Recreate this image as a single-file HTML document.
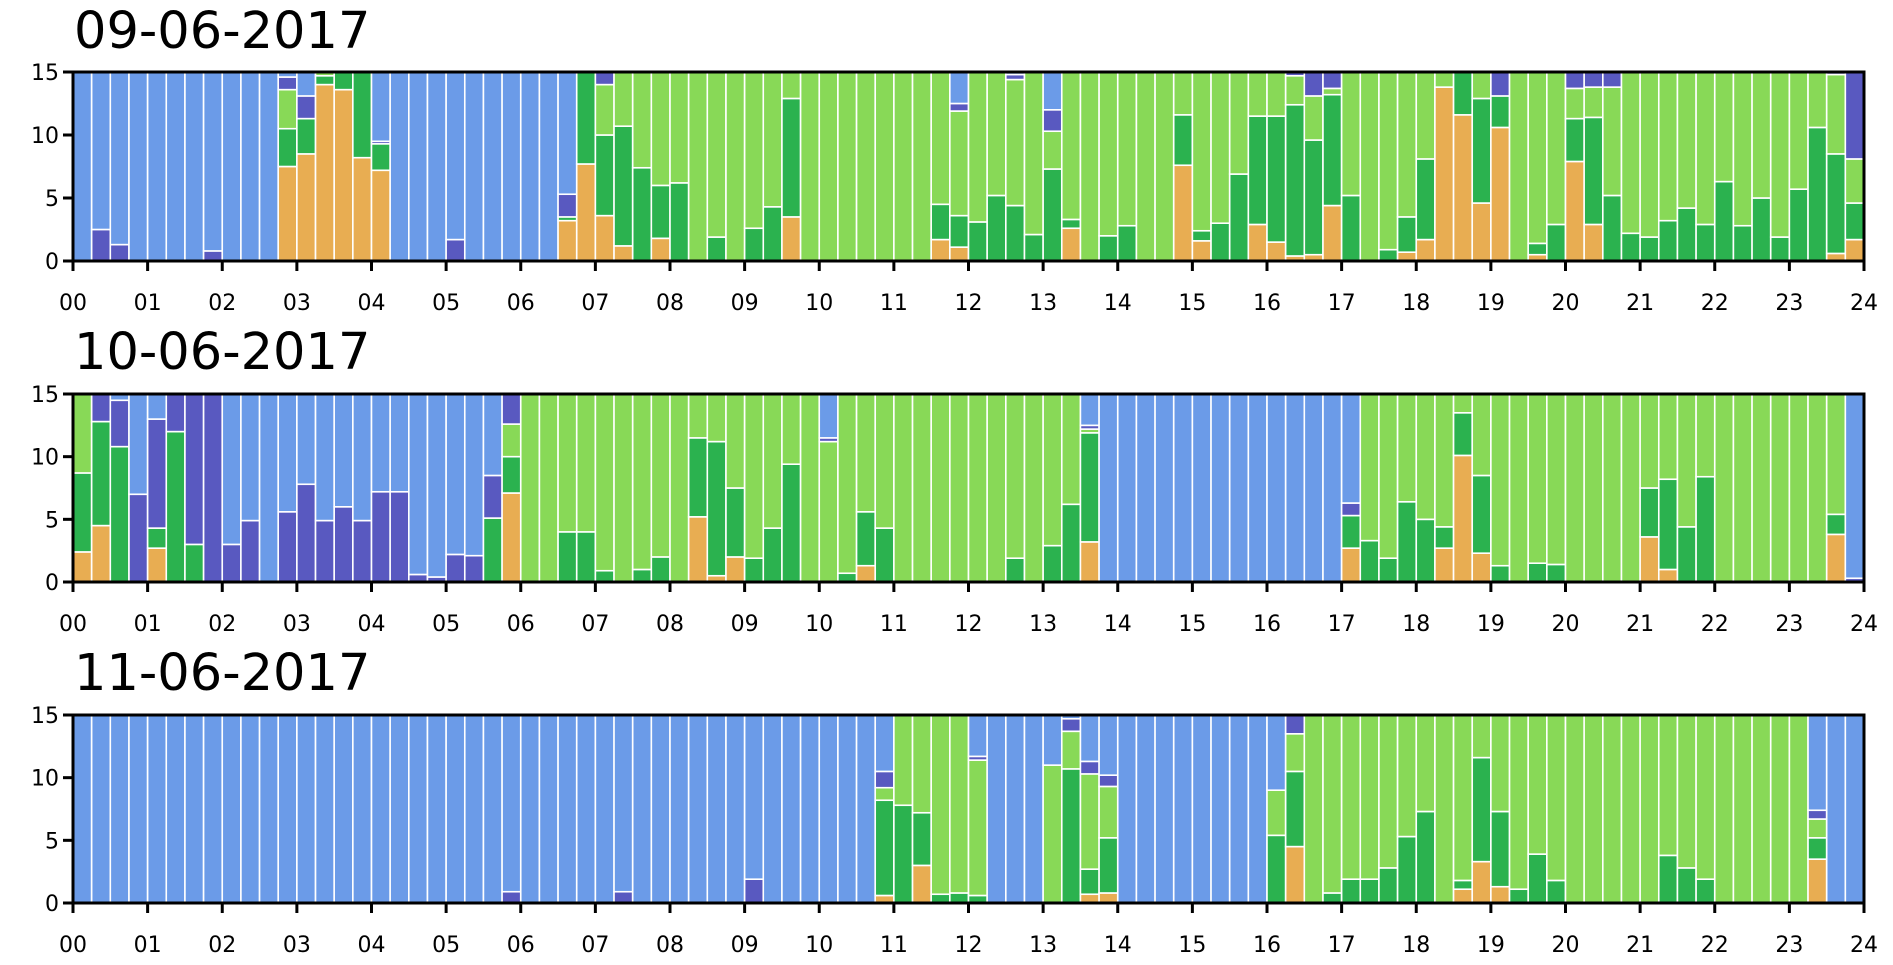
<!DOCTYPE html>
<html><head><meta charset="utf-8"><style>body{margin:0;background:#fff}svg{display:block}</style></head>
<body>
<svg id="s" width="1893" height="965" xmlns="http://www.w3.org/2000/svg" font-family="DejaVu Sans, Liberation Sans, sans-serif"></svg>
<script>
const C=['#e8ad52','#2bb24f','#88d957','#5959c0','#6b9be8'];
const P=[
{top:72,bot:261,title:'09-06-2017',ty:48,def:'B',o:{
1:[0,0,0,2.5],2:[0,0,0,1.3],7:[0,0,0,0.8],11:[7.5,3,3.1,1],12:[8.5,2.8,0,1.8],13:[14,0.7,0.3,0],14:[13.6,1.4,0,0],15:[8.2,6.8,0,0],16:[7.2,2.1,0,0.2],20:[0,0,0,1.7],
26:[3.2,0.3,0,1.8],27:[7.7,7.3,0,0],28:[3.6,6.4,4,1],29:[1.2,9.5,4.3,0],30:[0,7.4,7.6,0],31:[1.8,4.2,9,0],32:[0,6.2,8.8,0],
34:'G1.9',36:'G2.6',37:'G4.3',38:[3.5,9.4,2.1,0],46:[1.7,2.8,10.5,0],47:[1.1,2.5,8.3,0.6],48:'G3.1',49:'G5.2',50:[0,4.4,10,0.4],51:'G2.1',52:[0,7.3,3,1.7],53:[2.6,0.7,11.7,0],55:'G2',56:'G2.8',
59:[7.6,4,3.4,0],60:[1.6,0.8,12.6,0],61:'G3',62:'G6.9',63:[2.9,8.6,3.5,0],64:[1.5,10,3.5,0],65:[0.4,12,2.3,0.3],66:[0.5,9.1,3.5,1.9],67:[4.4,8.8,0.5,1.3],68:'G5.2',70:'G0.9',71:[0.7,2.8,11.5,0],72:[1.7,6.4,6.9,0],
73:[13.8,0,1.2,0],74:[11.6,3.4,0,0],75:[4.6,8.3,2.1,0],76:[10.6,2.5,0,1.9],78:[0.5,0.9,13.6,0],79:'G2.9',80:[7.9,3.4,2.4,1.3],81:[2.9,8.5,2.4,1.2],82:[0,5.2,8.6,1.2],83:'G2.2',84:'G1.9',85:'G3.2',86:'G4.2',87:'G2.9',88:'G6.3',89:'G2.8',90:'G5',91:'G1.9',92:'G5.7',93:'G10.6',94:[0.6,7.9,6.3,0.2],95:[1.7,2.9,3.5,6.9]
}},
{top:394,bot:582,title:'10-06-2017',ty:369,o:{
0:[2.4,6.3,6.3,0],1:[4.5,8.3,0,2.2],2:[0,10.8,0,3.7],3:[0,0,0,7],4:[2.7,1.6,0,8.7],5:[0,12,0,3],6:[0,3,0,12],7:[0,0,0,15],8:[0,0,0,3],9:[0,0,0,4.9],10:'B',11:[0,0,0,5.6],12:[0,0,0,7.8],13:[0,0,0,4.9],14:[0,0,0,6],15:[0,0,0,4.9],16:[0,0,0,7.2],17:[0,0,0,7.2],18:[0,0,0,0.6],19:[0,0,0,0.4],20:[0,0,0,2.2],21:[0,0,0,2.1],22:[0,5.1,0,3.4],23:[7.1,2.9,2.6,2.4],
26:'G4',27:'G4',28:'G0.9',30:'G1',31:'G2',33:[5.2,6.3,3.5,0],34:[0.5,10.7,3.8,0],35:[2,5.5,7.5,0],36:'G1.9',37:'G4.3',38:'G9.4',39:[0,0,14.6,0],40:[0,0,11.2,0.3],41:'G0.7',42:[1.3,4.3,9.4,0],43:'G4.3',50:'G1.9',52:'G2.9',53:'G6.2',54:[3.2,8.7,0.3,0.3],
55:'B',56:'B',57:'B',58:'B',59:'B',60:'B',61:'B',62:'B',63:'B',64:'B',65:'B',66:'B',67:'B',68:[2.7,2.6,0,1],
69:'G3.3',70:'G1.9',71:'G6.4',72:'G5',73:[2.7,1.7,10.6,0],74:[10.1,3.4,1.5,0],75:[2.3,6.2,6.5,0],76:'G1.3',78:'G1.5',79:'G1.4',84:[3.6,3.9,7.5,0],85:[1,7.2,6.8,0],86:'G4.4',87:'G8.4',94:[3.8,1.6,9.6,0],95:[0,0,0,0.3]
},def:'L'},
{top:715,bot:903,title:'11-06-2017',ty:690,def:'B',o:{
23:[0,0,0,0.9],29:[0,0,0,0.9],36:[0,0,0,1.9],43:[0.6,7.6,1,1.3],44:[0,7.8,7.2,0],45:[3,4.2,7.8,0],46:[0,0.7,14.3,0],47:[0,0.8,14.2,0],48:[0,0.6,10.8,0.3],
52:[0,0,11,0],53:[0,10.7,3,1],54:[0.7,2,7.6,1],55:[0.8,4.4,4.1,0.9],64:[0,5.4,3.6,0],65:[4.5,6,3,1.5],
67:'G0.8',68:'G1.9',69:'G1.9',70:'G2.8',71:'G5.3',72:'G7.3',74:[1.1,0.7,13.2,0],75:[3.3,8.3,3.4,0],76:[1.3,6,7.7,0],77:'G1.1',78:'G3.9',79:'G1.8',85:'G3.8',86:'G2.8',87:'G1.9',93:[3.5,1.7,1.5,0.7]
}}
];
const X0=73,X1=1864,BW=(X1-X0)/96;
let h='';
P.forEach((p,pi)=>{
 const H=p.bot-p.top,k=H/15;
 h+=`<line x1="${X0}" x2="${X1}" y1="${p.bot-5*k}" y2="${p.bot-5*k}" stroke="#ccc" stroke-width="1.5"/><line x1="${X0}" x2="${X1}" y1="${p.bot-10*k}" y2="${p.bot-10*k}" stroke="#ccc" stroke-width="1.5"/>`;
 for(let i=0;i<96;i++){
  let d=p.o[i],v;
  let def=p.def;
  if(pi==0&&i>=33)def='L';
  if(pi==2&&i>=66&&i<=92)def='L';
  if(pi==1&&i==95)def='B';
  if(d===undefined)d=def;
  if(typeof d==='string'){
   if(d=='B')v=[0,0,0,0,15];else if(d=='L')v=[0,0,15,0,0];else{const g=+d.slice(1);v=[0,g,15-g,0,0];}
  } else {
   const s=d[0]+d[1]+d[2]+d[3];
   v=[d[0],d[1],d[2],d[3],Math.max(0,15-s)];
   if(def=='L'&&d[3]==0&&s<15){v[2]+=15-s;v[4]=0;}
  }
  let y=p.bot;const x=X0+i*BW;
  v.forEach((val,c)=>{if(val<=0)return;const hh=val*k;h+=`<rect x="${x.toFixed(2)}" y="${(y-hh).toFixed(2)}" width="${BW.toFixed(2)}" height="${hh.toFixed(2)}" fill="${C[c]}" stroke="#fff" stroke-width="1.6"/>`;y-=hh;});
 }
 h+=`<rect x="${X0}" y="${p.top}" width="${X1-X0}" height="${H}" fill="none" stroke="#000" stroke-width="3"/>`;
 for(let t=0;t<=24;t++){const x=X0+t*BW*4;h+=`<line x1="${x}" x2="${x}" y1="${p.bot}" y2="${p.bot+10}" stroke="#000" stroke-width="3"/><text x="${x}" y="${p.bot+49}" font-size="22" text-anchor="middle">${String(t).padStart(2,'0')}</text>`;}
 [0,5,10,15].forEach(t=>{const y=p.bot-t*k;h+=`<line x1="${X0-10}" x2="${X0}" y1="${y}" y2="${y}" stroke="#000" stroke-width="3"/><text x="${X0-14}" y="${y+8}" font-size="22" text-anchor="end">${t}</text>`;});
 h+=`<text x="74" y="${p.ty}" font-size="51">${p.title}</text>`;
});
document.getElementById('s').innerHTML=h;
</script>
</body></html>
